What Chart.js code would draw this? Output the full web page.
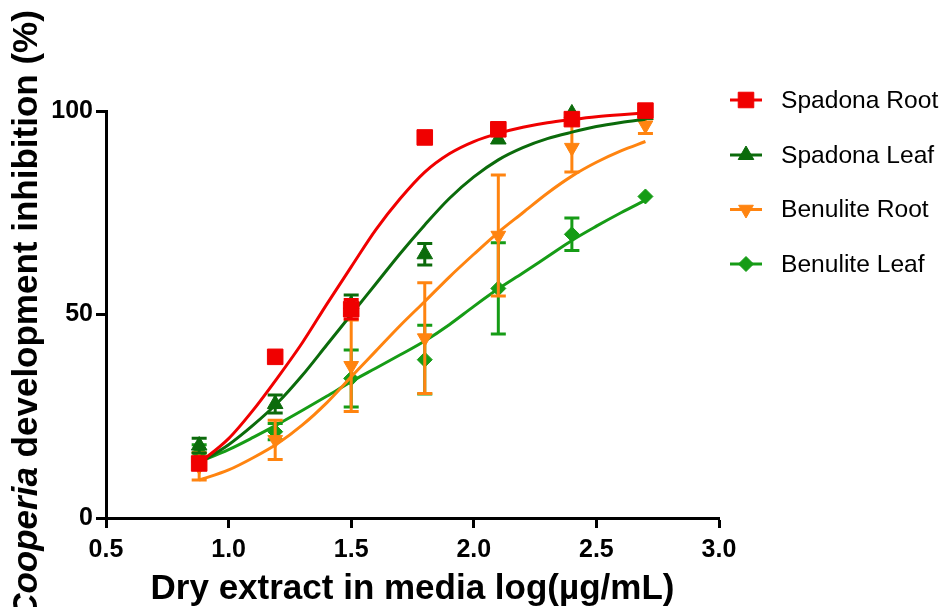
<!DOCTYPE html>
<html><head><meta charset="utf-8">
<script src="https://cdn.jsdelivr.net/npm/chart.js@4.4.1/dist/chart.umd.min.js"></script>
<style>html,body{margin:0;padding:0;background:#fff}#wrap{width:939px;height:607px;position:relative}</style>
</head><body><div id="wrap"><canvas id="c" width="939" height="607"></canvas></div>
<script>
// ---- data ----
const xDoses = [0.88, 1.19, 1.5, 1.8, 2.1, 2.4, 2.7];
const seriesNames = ['Spadona Root', 'Spadona Leaf', 'Benulite Root', 'Benulite Leaf'];

const spadonaRoot     = [13.4, 39.6, 51.3, 93.5, 95.5, 98.0, 100.1];
const spadonaRootErr  = [0, 0, 2.4, 0, 0, 0, 0];
const spadonaLeaf     = [17.8, 28.0, 52.5, 64.8, 93.0, 99.4, 99.0];
const spadonaLeafErr  = [1.8, 2.2, 2.3, 2.65, 0, 0, 0];
const benuliteRoot    = [12.7, 19.2, 37.4, 44.2, 69.4, 91.0, 96.5];
const benuliteRootErr = [3.35, 4.8, 11.25, 13.6, 14.85, 6.0, 2.0];
const benuliteLeaf    = [16.0, 21.2, 34.3, 38.9, 56.4, 69.7, 79.0];
const benuliteLeafErr = [2.0, 2.0, 7.0, 8.45, 11.2, 4.0, 0];

// fitted curves
const curveX          = [0.88, 1.0, 1.1, 1.2, 1.3, 1.4, 1.5, 1.6, 1.7, 1.8, 1.9, 2.0, 2.1, 2.2, 2.3, 2.4, 2.5, 2.6, 2.7];
const spadonaRootFit  = [13.5, 19.5, 26.5, 34.5, 43.0, 52.5, 61.7, 70.8, 78.5, 85.0, 89.5, 92.5, 94.5, 96.0, 97.1, 97.9, 98.6, 99.1, 99.5];
const spadonaLeafFit  = [13.5, 18.0, 22.8, 28.3, 35.0, 42.5, 50.0, 57.5, 65.0, 72.0, 78.5, 83.8, 88.0, 91.0, 93.2, 94.8, 96.2, 97.2, 98.0];
const benuliteRootFit = [9.3, 11.8, 14.8, 18.3, 22.8, 28.3, 34.7, 41.0, 47.3, 53.2, 59.2, 64.8, 70.2, 75.0, 79.8, 84.0, 87.4, 90.2, 92.5];
const benuliteLeafFit = [13.8, 16.8, 19.8, 23.0, 26.4, 29.9, 33.5, 36.8, 40.1, 43.5, 47.5, 52.0, 56.3, 60.2, 64.2, 68.2, 71.7, 75.0, 78.1];

const xTickLabels = ['0.5', '1.0', '1.5', '2.0', '2.5', '3.0'];
const yTickLabels = ['0', '50', '100'];

// ---- styles ----
const FF = "'Liberation Sans', Arial, Helvetica, sans-serif";
const colors = ['#f00000', '#0b6b0b', '#ff8410', '#169c16'];
const styles = [
  {pointStyle: 'rect', radius: 11, rotation: 0},
  {pointStyle: 'triangle', radius: 9, rotation: 0},
  {pointStyle: 'triangle', radius: 8.5, rotation: 180},
  {pointStyle: 'rectRot', radius: 7.5, rotation: 0}
];
const pointsSets = [spadonaRoot, spadonaLeaf, benuliteRoot, benuliteLeaf];
const errSets = [spadonaRootErr, spadonaLeafErr, benuliteRootErr, benuliteLeafErr];
const fitSets = [spadonaRootFit, spadonaLeafFit, benuliteRootFit, benuliteLeafFit];

const datasets = [];
seriesNames.forEach((name, s) => {
  datasets.push({
    label: name,
    data: xDoses.map((x, i) => ({x: x, y: pointsSets[s][i]})),
    errors: errSets[s],
    showLine: false,
    pointStyle: styles[s].pointStyle,
    pointRadius: styles[s].radius,
    pointRotation: styles[s].rotation,
    pointBackgroundColor: colors[s],
    pointBorderColor: colors[s],
    pointBorderWidth: 1,
    borderColor: colors[s],
    backgroundColor: colors[s],
    clip: false
  });
  datasets.push({
    label: name + ' fit',
    data: curveX.map((x, i) => ({x: x, y: fitSets[s][i]})),
    borderColor: colors[s],
    borderWidth: 3,
    pointRadius: 0,
    cubicInterpolationMode: 'monotone',
    fill: false,
    clip: false
  });
});

const errorBars = {
  id: 'errorBars',
  beforeDatasetDraw(chart, args) {
    const ds = chart.data.datasets[args.index];
    if (!ds.errors) return;
    const ctx = chart.ctx, xs = chart.scales.x, ys = chart.scales.y;
    ctx.save();
    ctx.strokeStyle = ds.borderColor;
    ctx.lineWidth = 3;
    ds.data.forEach((p, i) => {
      const e = ds.errors[i];
      if (!e) return;
      const px = xs.getPixelForValue(p.x);
      const top = ys.getPixelForValue(p.y + e), bot = ys.getPixelForValue(p.y - e);
      ctx.beginPath();
      ctx.moveTo(px, top); ctx.lineTo(px, bot);
      ctx.moveTo(px - 7.5, top); ctx.lineTo(px + 7.5, top);
      ctx.moveTo(px - 7.5, bot); ctx.lineTo(px + 7.5, bot);
      ctx.stroke();
    });
    ctx.restore();
  }
};

const decorations = {
  id: 'decorations',
  afterDraw(chart) {
    const ctx = chart.ctx;
    const area = chart.chartArea;
    ctx.save();
    // x title
    ctx.fillStyle = '#000';
    ctx.font = 'bold 35px ' + FF;
    ctx.textAlign = 'center';
    ctx.textBaseline = 'alphabetic';
    ctx.fillText('Dry extract in media log(\u00b5g/mL)', (area.left + area.right) / 2, 599);
    // y title
    ctx.save();
    ctx.translate(37, (area.top + area.bottom) / 2);
    ctx.rotate(-Math.PI / 2);
    ctx.textAlign = 'left';
    const p1 = 'Cooperia', p2 = ' development inhibition (%)';
    ctx.font = 'italic bold 35px ' + FF;
    const w1 = ctx.measureText(p1).width;
    ctx.font = 'bold 35px ' + FF;
    const w2 = ctx.measureText(p2).width;
    let x0 = -(w1 + w2) / 2;
    ctx.font = 'italic bold 35px ' + FF;
    ctx.fillText(p1, x0, 0);
    ctx.font = 'bold 35px ' + FF;
    ctx.fillText(p2, x0 + w1, 0);
    ctx.restore();
    // legend
    const rowY = [100, 155, 209.5, 264];
    seriesNames.forEach((name, s) => {
      const y = rowY[s];
      ctx.strokeStyle = colors[s];
      ctx.lineWidth = 3;
      ctx.beginPath(); ctx.moveTo(730, y); ctx.lineTo(762, y); ctx.stroke();
      ctx.fillStyle = colors[s];
      ctx.lineWidth = 1;
      Chart.helpers.drawPoint(ctx, {pointStyle: styles[s].pointStyle, radius: styles[s].radius, rotation: styles[s].rotation, borderWidth: 1}, 746, y);
      ctx.fillStyle = '#000';
      ctx.font = '24.6px ' + FF;
      ctx.textAlign = 'left';
      ctx.textBaseline = 'middle';
      ctx.fillText(name, 781, y + 1);
    });
    ctx.restore();
  }
};

new Chart(document.getElementById('c'), {
  type: 'line',
  data: {datasets: datasets},
  plugins: [errorBars, decorations],
  options: {
    responsive: false,
    animation: false,
    devicePixelRatio: 1,
    layout: {padding: {top: 111, right: 220, bottom: 0, left: 0}},
    plugins: {legend: {display: false}, tooltip: {enabled: false}},
    scales: {
      x: {
        type: 'linear', min: 0.5, max: 3.0,
        ticks: {stepSize: 0.5, callback: (v, i) => xTickLabels[i], font: {family: FF, size: 25, weight: 'bold'}, color: '#000', padding: 7, maxRotation: 0, autoSkip: false},
        grid: {drawOnChartArea: false, drawTicks: true, tickLength: 10, tickWidth: 3, tickColor: '#000'},
        border: {display: true, color: '#000', width: 3},
        afterFit: s => { s.height = 89; }
      },
      y: {
        type: 'linear', min: 0, max: 100,
        ticks: {stepSize: 50, callback: (v, i) => yTickLabels[i], font: {family: FF, size: 25, weight: 'bold'}, color: '#000', padding: 3},
        grid: {drawOnChartArea: false, drawTicks: true, tickLength: 10, tickWidth: 3, tickColor: '#000'},
        border: {display: true, color: '#000', width: 3},
        afterFit: s => { s.height = undefined; s.width = 106; }
      }
    }
  }
});
</script></body></html>
